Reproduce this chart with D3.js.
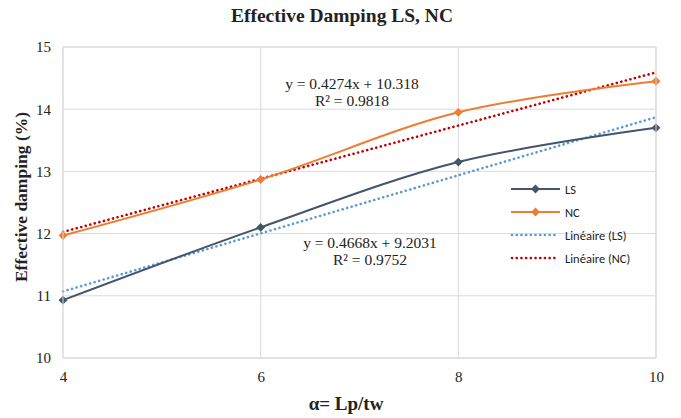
<!DOCTYPE html>
<html><head><meta charset="utf-8">
<script src="https://cdnjs.cloudflare.com/ajax/libs/d3/7.8.5/d3.min.js"></script>
<style>body{margin:0;background:#fff}svg{display:block}</style>
</head><body><svg id="c" width="681" height="418"></svg>
<script>
const xValues = [4, 6, 8, 10];
const lsValues = [10.93, 12.10, 13.15, 13.70];
const ncValues = [11.97, 12.87, 13.95, 14.45];
const lsTrend = {slope: 0.4668, intercept: 9.2031, eq: "y = 0.4668x + 9.2031", r2: "R² = 0.9752"};
const ncTrend = {slope: 0.4274, intercept: 10.318, eq: "y = 0.4274x + 10.318", r2: "R² = 0.9818"};
const xTicks = [4, 6, 8, 10];
const yTicks = [10, 11, 12, 13, 14, 15];
const legendLabels = ["LS", "NC", "Linéaire (LS)", "Linéaire (NC)"];

const svg = d3.select("#c");
const L = 63, R = 656, T = 47, B = 358;
const x = d3.scaleLinear().domain([4, 10]).range([L, R]);
const y = d3.scaleLinear().domain([10, 15]).range([B, T]);
const serif = "'Liberation Serif','Times New Roman',serif";
const sans = "Carlito, Lato, 'Open Sans', sans-serif";

// gridlines
svg.append("g").selectAll("line").data(yTicks).join("line")
  .attr("x1", L).attr("x2", R).attr("y1", d => y(d)).attr("y2", d => y(d))
  .attr("stroke", "#d9d9d9").attr("stroke-width", 1);
svg.append("g").selectAll("line").data(xTicks).join("line")
  .attr("x1", d => x(d)).attr("x2", d => x(d)).attr("y1", T).attr("y2", B)
  .attr("stroke", "#d9d9d9").attr("stroke-width", 1);

// axes labels
const yAxis = d3.axisLeft(y).tickValues(yTicks).tickSize(0).tickPadding(12).tickFormat(d3.format("d"));
const gy = svg.append("g").attr("transform", `translate(${L},0)`).call(yAxis);
gy.select(".domain").remove();
gy.selectAll("text").attr("font-family", serif).attr("font-size", 15).attr("fill", "#222");
const xAxis = d3.axisBottom(x).tickValues(xTicks).tickSize(0).tickPadding(13).tickFormat(d3.format("d"));
const gx = svg.append("g").attr("transform", `translate(0,${B})`).call(xAxis);
gx.select(".domain").remove();
gx.selectAll("text").attr("font-family", serif).attr("font-size", 15).attr("fill", "#222");

// trendlines
function trendLine(t, color) {
  svg.append("line")
    .attr("x1", x(4)).attr("y1", y(t.slope * 4 + t.intercept))
    .attr("x2", x(10)).attr("y2", y(t.slope * 10 + t.intercept))
    .attr("stroke", color).attr("stroke-width", 2.6)
    .attr("stroke-dasharray", "0.1,4.6").attr("stroke-linecap", "round");
}
trendLine(lsTrend, "#5b9bd5");
trendLine(ncTrend, "#c00000");

// series
const line = d3.line().x((d, i) => x(xValues[i])).y(d => y(d)).curve(d3.curveCatmullRom.alpha(0.5));
function series(vals, color) {
  svg.append("path").datum(vals).attr("d", line).attr("fill", "none")
    .attr("stroke", color).attr("stroke-width", 2);
  svg.append("g").selectAll("path").data(vals).join("path")
    .attr("d", d3.symbol(d3.symbolDiamond2, 50))
    .attr("transform", (d, i) => `translate(${x(xValues[i])},${y(d)})`)
    .attr("fill", color);
}
series(lsValues, "#44546a");
series(ncValues, "#ed7d31");

// plot frame
svg.append("rect").attr("x", L).attr("y", T).attr("width", R - L).attr("height", B - T)
  .attr("fill", "none").attr("stroke", "#d9d9d9");

// equations
function eqText(t, cx, cy) {
  const g = svg.append("g").attr("font-family", serif).attr("font-size", 15.5).attr("fill", "#222").attr("text-anchor", "middle");
  g.append("text").attr("x", cx).attr("y", cy).text(t.eq);
  g.append("text").attr("x", cx).attr("y", cy + 17).text(t.r2);
}
eqText(ncTrend, 352, 89);
eqText(lsTrend, 370, 248);

// legend
const legColors = ["#44546a", "#ed7d31", "#5b9bd5", "#c00000"];
const lg = svg.append("g");
legendLabels.forEach((lab, i) => {
  const ly = 189 + i * 23;
  if (i < 2) {
    lg.append("line").attr("x1", 511).attr("x2", 560).attr("y1", ly).attr("y2", ly)
      .attr("stroke", legColors[i]).attr("stroke-width", 2);
    lg.append("path").attr("d", d3.symbol(d3.symbolDiamond2, 50))
      .attr("transform", `translate(535.5,${ly})`).attr("fill", legColors[i]);
  } else {
    lg.append("line").attr("x1", 512).attr("x2", 557).attr("y1", ly).attr("y2", ly)
      .attr("stroke", legColors[i]).attr("stroke-width", 2.6)
      .attr("stroke-dasharray", "0.1,4.6").attr("stroke-linecap", "round");
  }
  lg.append("text").attr("x", 565).attr("y", ly + 4.5).text(lab)
    .attr("font-family", sans).attr("font-size", 12.5).attr("fill", "#222");
});

// titles
svg.append("text").attr("x", 342).attr("y", 22).attr("text-anchor", "middle")
  .attr("font-family", serif).attr("font-weight", "bold").attr("font-size", 19.5).attr("fill", "#222")
  .text("Effective Damping LS, NC");
svg.append("text").attr("transform", "translate(27,197) rotate(-90)").attr("text-anchor", "middle")
  .attr("font-family", serif).attr("font-weight", "bold").attr("font-size", 17.5).attr("fill", "#222")
  .text("Effective damping (%)");
svg.append("text").attr("x", 346).attr("y", 410).attr("text-anchor", "middle")
  .attr("font-family", serif).attr("font-weight", "bold").attr("font-size", 19).attr("fill", "#222")
  .text("α= Lp/tw");
</script></body></html>
